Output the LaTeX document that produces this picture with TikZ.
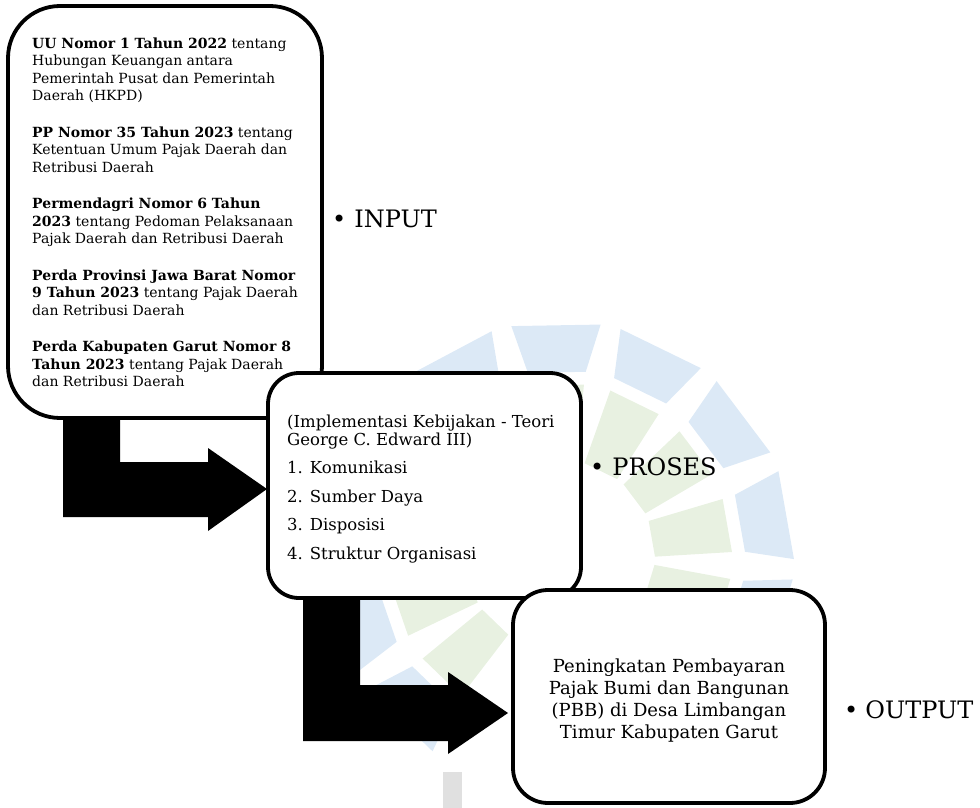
\documentclass[tikz,border=0pt]{standalone}
\usepackage{fontspec}
\setmainfont{DejaVu Serif}
\usetikzlibrary{backgrounds}
\definecolor{wmblue}{HTML}{DCE9F6}
\definecolor{wmgreen}{HTML}{E8F1E1}
\definecolor{wmgray}{HTML}{E0E0E0}
\tikzset{
  box/.style={draw=black, line width=3.8pt, fill=white, inner sep=0pt},
  bentarrow/.style={fill=black},
  boxtext/.style={inner sep=0pt},
  lbl/.style={anchor=base west, inner sep=0pt, font=\fontsize{24}{29}\selectfont},
}
\begin{document}
\begin{tikzpicture}[x=1pt,y=-1pt]
\useasboundingbox (0,0) rectangle (980,808);

% boxes (later ones drawn on top of earlier ones)
\node[box, rounded corners=52pt, minimum width=314pt, minimum height=412pt] (box1) at (165,212) {};
\node[box, rounded corners=31pt, minimum width=313pt, minimum height=225pt] (box2) at (424.5,485.5) {};
\node[box, rounded corners=35pt, minimum width=312pt, minimum height=213pt] (box3) at (669,696.5) {};

\begin{scope}[on background layer]
  % faint watermark logo
  \begin{scope}[shift={(560,555)}]
    \foreach \a in {134,161,188,215,242,269,296,323,350,17}{
      \fill[wmblue] (\a-9:185) -- (\a+9:185) -- (\a+11:234) -- (\a-11:234) -- cycle;
      \fill[wmgreen] (\a-11:95) -- (\a+11:95) -- (\a+9:172) -- (\a-9:172) -- cycle;
    }
  \end{scope}
  \fill[wmgray] (443,772) rectangle (462,808);
  % bent arrows
  \coordinate (a1s) at (63,410);
  \coordinate (a1t) at (267,489);
  \coordinate (a2s) at (303,590);
  \coordinate (a2t) at (508,713);
  \fill[bentarrow] (a1s) -- (120,410) -- (120,462) -- (208,462) -- (208,448) -- (a1t)
     -- (208,531) -- (208,517) -- (63,517) -- cycle;
  \fill[bentarrow] (a2s) -- (360,590) -- (360,685) -- (448,685) -- (448,672) -- (a2t)
     -- (448,754) -- (448,741) -- (303,741) -- cycle;
\end{scope}

% texts
\node[boxtext, anchor=north west, align=left, font=\fontsize{14}{17.5}\selectfont] (t1) at (32,37.4)
{\textbf{UU Nomor 1 Tahun 2022} tentang\\Hubungan Keuangan antara\\Pemerintah Pusat dan Pemerintah\\Daerah (HKPD)\\[19pt]%
\textbf{PP Nomor 35 Tahun 2023} tentang\\Ketentuan Umum Pajak Daerah dan\\Retribusi Daerah\\[19pt]%
\textbf{Permendagri Nomor 6 Tahun}\\\textbf{2023} tentang Pedoman Pelaksanaan\\Pajak Daerah dan Retribusi Daerah\\[19pt]%
\textbf{Perda Provinsi Jawa Barat Nomor}\\\textbf{9 Tahun 2023} tentang Pajak Daerah\\dan Retribusi Daerah\\[19pt]%
\textbf{Perda Kabupaten Garut Nomor 8}\\\textbf{Tahun 2023} tentang Pajak Daerah\\dan Retribusi Daerah};

\node[boxtext, anchor=north west, align=left, font=\fontsize{16.5}{18}\selectfont] (t2) at (287,414.5)
{(Implementasi Kebijakan - Teori\\George C. Edward III)\\[10.5pt]1. Komunikasi\\[10.5pt]2. Sumber Daya\\[10.5pt]3. Disposisi\\[10.5pt]4. Struktur Organisasi};

\node[boxtext, anchor=north, align=center, font=\fontsize{18}{22}\selectfont] (t3) at (669,658.3)
{Peningkatan Pembayaran\\Pajak Bumi dan Bangunan\\(PBB) di Desa Limbangan\\Timur Kabupaten Garut};

% side labels
\node[lbl] (lin) at (332,227) {•\hspace{8pt}INPUT};
\node[lbl] (lpr) at (590,475) {•\hspace{8pt}PROSES};
\node[lbl] (lout) at (844,718) {•\hspace{7pt}OUTPUT};
\end{tikzpicture}
\end{document}
